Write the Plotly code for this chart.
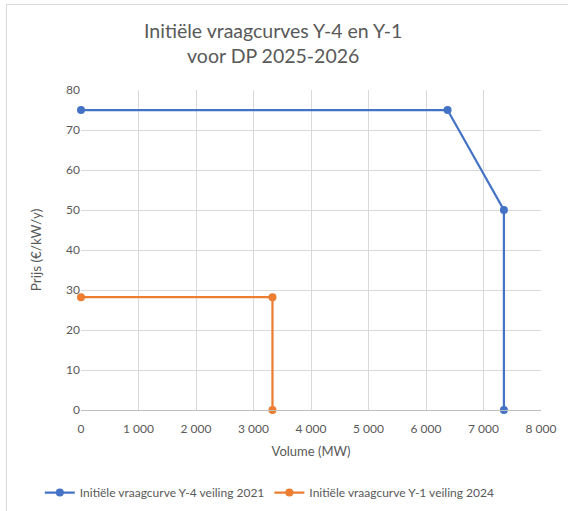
import plotly.graph_objects as go

# Data
y4_volume = [0, 6375, 7355, 7355]
y4_price = [75, 75, 50, 0]
y1_volume = [0, 3330, 3330]
y1_price = [28.2, 28.2, 0]

series_names = ["Initiële vraagcurve Y-4 veiling 2021", "Initiële vraagcurve Y-1 veiling 2024"]
x_tickvals = [0, 1000, 2000, 3000, 4000, 5000, 6000, 7000, 8000]
x_ticktext = ["0", "1 000", "2 000", "3 000", "4 000", "5 000", "6 000", "7 000", "8 000"]
y_tickvals = [0, 10, 20, 30, 40, 50, 60, 70, 80]

FONT = "Lato"
GREY = "#595959"
W, H = 568, 511

fig = go.Figure()
fig.add_trace(go.Scatter(x=y4_volume, y=y4_price, mode="lines+markers", name=series_names[0], cliponaxis=False,
                         line=dict(color="#4472C4", width=2.25), marker=dict(size=8, color="#4472C4")))
fig.add_trace(go.Scatter(x=y1_volume, y=y1_price, mode="lines+markers", name=series_names[1], cliponaxis=False,
                         line=dict(color="#ED7D31", width=2.25), marker=dict(size=8, color="#ED7D31")))

fig.update_layout(
    width=W, height=H,
    margin=dict(l=81, r=27, t=90, b=101),
    paper_bgcolor="white", plot_bgcolor="white",
    font=dict(family=FONT, color=GREY, size=12),
    title=dict(text="Initiële vraagcurves Y-4 en Y-1<br>voor DP 2025-2026", x=0.481, xref="container",
               xanchor="center", y=0.926, yanchor="top", font=dict(size=19.5, color=GREY, family=FONT)),
    showlegend=True,
    legend=dict(orientation="h", x=0.475, xref="container", xanchor="center", y=0.036, yref="container",
                yanchor="middle", font=dict(size=12, color=GREY), itemwidth=30),
    xaxis=dict(range=[0, 8000], tickvals=x_tickvals, ticktext=x_ticktext, showgrid=True, gridcolor="#d9d9d9",
               gridwidth=1, showline=True, linecolor="#bfbfbf", linewidth=1, zeroline=False, ticks="",
               ticklabelstandoff=8,
               title=dict(text="Volume (MW)", font=dict(size=13, color=GREY), standoff=11),
               tickfont=dict(size=12, color=GREY)),
    yaxis=dict(range=[0, 80], tickvals=y_tickvals, showgrid=True, gridcolor="#d9d9d9", gridwidth=1,
               zeroline=False, showline=False, ticks="",
               title=dict(text="Prijs (€/kW/y)", font=dict(size=13.5, color=GREY), standoff=21),
               tickfont=dict(size=12, color=GREY)),
)

post = (
    "document.body.style.margin='0';document.body.style.overflow='hidden';"
    "var b=document.createElement('div');"
    "b.style.cssText='position:absolute;left:6px;top:4px;width:700px;height:700px;"
    "border-left:1.5px solid #d9d9d9;border-top:1.5px solid #d9d9d9;pointer-events:none;';"
    "document.body.appendChild(b);"
)
fig.write_html("out.html", config={"displayModeBar": False}, post_script=post)
